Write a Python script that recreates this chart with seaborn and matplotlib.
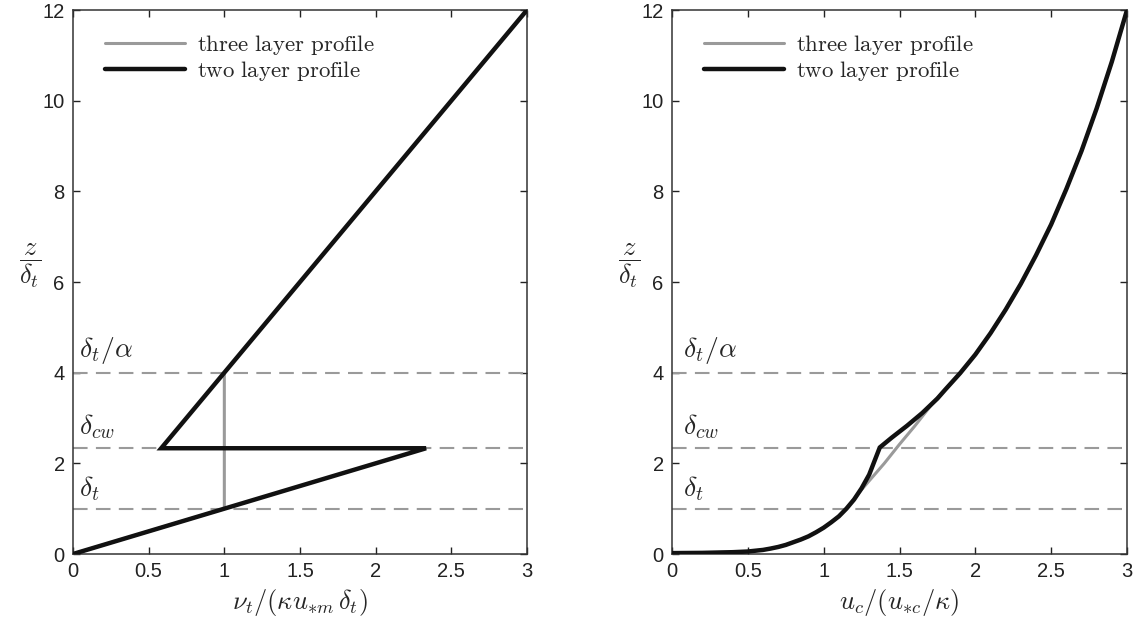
import matplotlib
matplotlib.use("Agg")
import matplotlib.pyplot as plt
import seaborn as sns
import pandas as pd

# ---- data ----
# left panel: eddy viscosity profiles
nu_three = [0.0, 1.0, 1.0, 3.0]
z_nu_three = [0.0, 1.0, 4.0, 12.0]
nu_two = [0.0, 2.333, 0.583, 3.0]
z_nu_two = [0.0, 2.333, 2.333, 12.0]

# right panel: current velocity profiles
u_low = [0.0, 0.2, 0.4, 0.5, 0.6, 0.65, 0.7, 0.75, 0.8, 0.85, 0.9, 0.95, 1.0, 1.05, 1.1, 1.15]
z_low = [0.02, 0.025, 0.04, 0.055, 0.09, 0.12, 0.155, 0.2, 0.26, 0.32, 0.39, 0.48, 0.58, 0.7, 0.83, 1.0]
u_high = [1.8, 1.9, 2.0, 2.1, 2.2, 2.3, 2.4, 2.5, 2.6, 2.7, 2.8, 2.9, 3.0]
z_high = [3.62, 3.99, 4.4, 4.87, 5.39, 5.96, 6.59, 7.27, 8.05, 8.89, 9.83, 10.86, 12.0]
u_three_mid = [1.25, 1.4, 1.5, 1.6, 1.72]
z_three_mid = [1.42, 2.0, 2.42, 2.82, 3.33]
u_two_mid = [1.2, 1.25, 1.3, 1.37, 1.45, 1.55, 1.65, 1.75]
z_two_mid = [1.2, 1.45, 1.75, 2.35, 2.57, 2.83, 3.11, 3.43]

levels = [1.0, 2.333, 4.0]
level_labels = [r"$\delta_t$", r"$\delta_{cw}$", r"$\delta_t/\alpha$"]
series_names = [r"$\mathrm{three\ layer\ profile}$", r"$\mathrm{two\ layer\ profile}$"]
xlabels = [r"$\nu_t/(\kappa u_{*m}\,\delta_t)$", r"$u_c/(u_{*c}/\kappa)$"]
xticks = [0, 0.5, 1, 1.5, 2, 2.5, 3]
xticklabels = ["0", "0.5", "1", "1.5", "2", "2.5", "3"]
yticks = [0, 2, 4, 6, 8, 10, 12]

u_three = u_low + u_three_mid + u_high
z_u_three = z_low + z_three_mid + z_high
u_two = u_low + u_two_mid + u_high
z_u_two = z_low + z_two_mid + z_high

sns.set_style("ticks")
plt.rcParams["font.family"] = ["Liberation Sans", "DejaVu Sans"]
plt.rcParams["mathtext.fontset"] = "cm"

fig = plt.figure(figsize=(11.35, 6.26), dpi=100)
ax1 = fig.add_axes([73 / 1135, 72 / 626, 454 / 1135, 544 / 626])
ax2 = fig.add_axes([672 / 1135, 72 / 626, 455 / 1135, 544 / 626])

panels = [
    (ax1, nu_three, z_nu_three, nu_two, z_nu_two),
    (ax2, u_three, z_u_three, u_two, z_u_two),
]

gray = "#9a9a9a"
for i, (ax, x3, y3, x2, y2) in enumerate(panels):
    for lv in levels:
        ax.axhline(lv, color=gray, lw=1.5, dashes=(7, 4), zorder=1)
    d3 = pd.DataFrame({"x": x3, "z": y3})
    d2 = pd.DataFrame({"x": x2, "z": y2})
    sns.lineplot(data=d3, x="x", y="z", sort=False, estimator=None, ax=ax,
                 color=gray, lw=2.2, label=series_names[0], zorder=2)
    sns.lineplot(data=d2, x="x", y="z", sort=False, estimator=None, ax=ax,
                 color="#111111", lw=3.2, label=series_names[1], zorder=3,
                 solid_joinstyle="miter")
    ax.set_xlim(0, 3)
    ax.set_ylim(0, 12)
    ax.set_xticks(xticks)
    ax.set_xticklabels(xticklabels)
    ax.set_yticks(yticks)
    ax.tick_params(direction="in", top=True, right=True, labelsize=14.5,
                   length=5, width=1, pad=6, colors="#222222")
    for s in ax.spines.values():
        s.set_linewidth(1.1)
        s.set_color("#333333")
    ax.set_xlabel(xlabels[i], fontsize=19, labelpad=4)
    ax.set_ylabel(r"$\dfrac{z}{\delta_t}$", fontsize=19, rotation=0, va="center", ha="center")
    ax.yaxis.set_label_coords(-0.095, 0.53)
    xoff = 0.04 if i == 0 else 0.07
    for lv, lab, dy in zip(levels, level_labels, [0.12, 0.15, 0.15]):
        ax.text(xoff, lv + dy, lab, fontsize=20, va="bottom", ha="left")
    ax.legend(loc="upper left", frameon=False, fontsize=16.5,
              handlelength=3.5, handletextpad=0.5, borderaxespad=0.6,
              labelspacing=0.1, bbox_to_anchor=(0.02, 1.0))

fig.savefig("out.png", dpi=100)
